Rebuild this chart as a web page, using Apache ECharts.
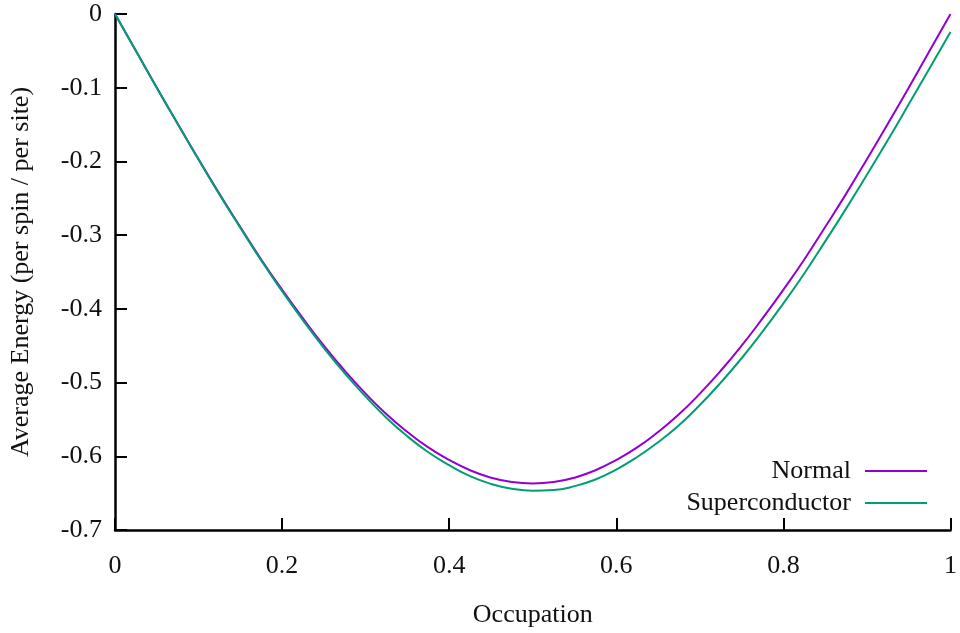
<!DOCTYPE html>
<html>
<head>
<meta charset="utf-8">
<script src="https://cdn.jsdelivr.net/npm/echarts@6/dist/echarts.min.js"></script>
<style>
  html, body { margin: 0; padding: 0; background: #fff; }
  #chart { width: 960px; height: 633px; }
</style>
</head>
<body>
<div id="chart"></div>
<script>
// values
const occupation = [0, 0.025, 0.05, 0.075, 0.1, 0.125, 0.15, 0.175, 0.2, 0.225, 0.25,
  0.275, 0.3, 0.325, 0.35, 0.375, 0.4, 0.425, 0.45, 0.475, 0.5,
  0.525, 0.55, 0.575, 0.6, 0.625, 0.65, 0.675, 0.7, 0.725, 0.75,
  0.775, 0.8, 0.825, 0.85, 0.875, 0.9, 0.925, 0.95, 0.975, 1]
const normal = [0, -0.050, -0.100, -0.149, -0.197, -0.244, -0.289, -0.333, -0.374, -0.413, -0.450,
  -0.484, -0.515, -0.543, -0.567, -0.588, -0.605, -0.619, -0.629, -0.635, -0.637,
  -0.635, -0.629, -0.619, -0.605, -0.588, -0.567, -0.543, -0.515, -0.484, -0.450,
  -0.413, -0.374, -0.333, -0.289, -0.244, -0.197, -0.149, -0.100, -0.050, 0]
const superconductor = [0, -0.050, -0.100, -0.149, -0.1975, -0.245, -0.290, -0.3345, -0.376, -0.4155, -0.453,
  -0.4875, -0.519, -0.548, -0.573, -0.5945, -0.612, -0.627, -0.6375, -0.644, -0.6466,
  -0.6458, -0.6405, -0.6315, -0.6180, -0.6010, -0.581, -0.558, -0.5305, -0.500, -0.467,
  -0.431, -0.3925, -0.352, -0.3085, -0.264, -0.218, -0.171, -0.1225, -0.0735, -0.0244]
const yTicks = [-0.7, -0.6, -0.5, -0.4, -0.3, -0.2, -0.1, 0]

const font = 'Liberation Serif'
const pairs = ys => occupation.map((x, i) => [x, ys[i]])

const myChart = echarts.init(document.getElementById('chart'))

const axisCommon = {
  axisLine: { onZero: false, lineStyle: { color: '#000', width: 2.5 } },
  axisTick: { inside: true, length: 12, lineStyle: { color: '#000', width: 2 } },
  splitLine: { show: false },
  nameTextStyle: { fontFamily: font, fontSize: 26, color: '#111' },
  axisLabel: { fontFamily: font, fontSize: 26, color: '#111' }
}

const legendCommon = {
  orient: 'vertical',
  align: 'right',
  right: 33,
  padding: 0,
  icon: 'rect',
  itemWidth: 62,
  itemHeight: 2,
  textStyle: { fontFamily: font, fontSize: 26, color: '#111', padding: [0, 9, 0, 0] }
}

const option = {
  animation: false,
  backgroundColor: '#fff',
  grid: { left: 115, right: 8, top: 14, bottom: 102 },
  legend: [
    Object.assign({ top: 458, data: ['Normal'] }, legendCommon),
    Object.assign({ top: 490, data: ['Superconductor'] }, legendCommon)
  ],
  xAxis: Object.assign({}, axisCommon, {
    type: 'value',
    min: 0,
    max: 1,
    interval: 0.2,
    name: 'Occupation',
    nameLocation: 'middle',
    nameGap: 72,
    axisLabel: Object.assign({}, axisCommon.axisLabel, { margin: 23 })
  }),
  yAxis: Object.assign({}, axisCommon, {
    type: 'value',
    min: yTicks[0],
    max: yTicks[yTicks.length - 1],
    interval: 0.1,
    name: 'Average Energy (per spin / per site)',
    nameLocation: 'middle',
    nameRotate: 90,
    nameGap: 81,
    axisLabel: Object.assign({}, axisCommon.axisLabel, { margin: 13 })
  }),
  series: [
    {
      name: 'Normal',
      type: 'line',
      data: pairs(normal),
      smooth: true,
      symbol: 'none',
      lineStyle: { color: '#9400d3', width: 2 },
      itemStyle: { color: '#9400d3' }
    },
    {
      name: 'Superconductor',
      type: 'line',
      data: pairs(superconductor),
      smooth: true,
      symbol: 'none',
      lineStyle: { color: '#009e73', width: 2 },
      itemStyle: { color: '#009e73' }
    }
  ]
}
myChart.setOption(option)
</script>
</body>
</html>
